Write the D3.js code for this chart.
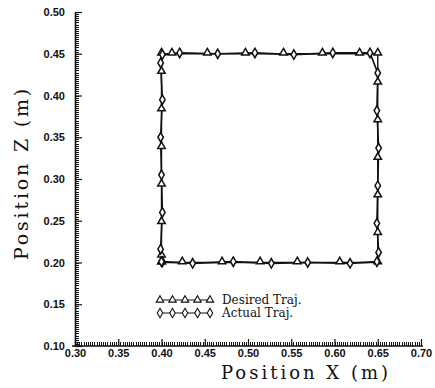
<!DOCTYPE html>
<html lang="en">
<head>
<meta charset="UTF-8">
<title>Position X-Z</title>
<script src="https://d3js.org/d3.v7.min.js"></script>
<style>
    body { margin: 0; background: #fff; }
    svg { display: block; }
    .tick text { font-family: "Liberation Sans", Arial, sans-serif; font-weight: bold; font-size: 11px; fill: #111; }
    .minor line { shape-rendering: crispEdges; }
    .title { font-family: "DejaVu Serif", serif; fill: #111; }
    .legend text { font-family: "DejaVu Serif", serif; font-size: 12px; fill: #111; }
</style>
</head>
<body>
<div id="chart"></div>
<script>
    // axis ticks
    var xTicks = [0.30, 0.35, 0.40, 0.45, 0.50, 0.55, 0.60, 0.65, 0.70];
    var zTicks = [0.10, 0.15, 0.20, 0.25, 0.30, 0.35, 0.40, 0.45, 0.50];

    // desired trajectory (square)
    var desiredX = [0.400, 0.424, 0.470, 0.514, 0.557, 0.606, 0.650,
                    0.650, 0.650, 0.650, 0.650, 0.650, 0.650,
                    0.629, 0.586, 0.541, 0.497, 0.453, 0.412, 0.400,
                    0.400, 0.400, 0.400, 0.400, 0.400, 0.400, 0.400];
    var desiredZ = [0.200, 0.200, 0.200, 0.200, 0.200, 0.200, 0.200,
                    0.235, 0.280, 0.325, 0.370, 0.415, 0.450,
                    0.450, 0.450, 0.450, 0.450, 0.450, 0.450, 0.450,
                    0.428, 0.383, 0.338, 0.293, 0.248, 0.208, 0.200];

    // actual trajectory
    var actualX = [0.401, 0.436, 0.483, 0.527, 0.569, 0.618, 0.649,
                   0.651, 0.649, 0.650, 0.651, 0.649, 0.650,
                   0.641, 0.598, 0.553, 0.508, 0.465, 0.421, 0.401,
                   0.399, 0.401, 0.399, 0.400, 0.401, 0.399, 0.400];
    var actualZ = [0.201, 0.199, 0.201, 0.199, 0.200, 0.199, 0.201,
                   0.212, 0.247, 0.292, 0.337, 0.382, 0.427,
                   0.451, 0.451, 0.449, 0.451, 0.450, 0.451, 0.449,
                   0.439, 0.395, 0.350, 0.305, 0.260, 0.216, 0.201];

    var width = 435, height = 388;

    var x = d3.scaleLinear().domain([0.30, 0.70]).range([75, 421]);
    var y = d3.scaleLinear().domain([0.10, 0.50]).range([346, 12]);

    var svg = d3.select("#chart").append("svg")
        .attr("width", width)
        .attr("height", height);

    // minor ticks every 0.0025
    var xMinor = d3.range(0, 161).map(i => 0.30 + i * 0.0025);
    var zMinor = d3.range(0, 161).map(i => 0.10 + i * 0.0025);

    svg.append("g")
        .attr("class", "minor")
        .attr("transform", "translate(0," + y(0.10) + ")")
        .call(d3.axisBottom(x).tickValues(xMinor).tickSize(-4).tickFormat(""))
        .call(g => g.select(".domain").remove())
        .selectAll("line").attr("stroke", "#111").attr("stroke-width", 1);

    svg.append("g")
        .attr("class", "minor")
        .attr("transform", "translate(" + x(0.30) + ",0)")
        .call(d3.axisLeft(y).tickValues(zMinor).tickSize(-4).tickFormat(""))
        .call(g => g.select(".domain").remove())
        .selectAll("line").attr("stroke", "#111").attr("stroke-width", 1);

    // major ticks + labels
    var xAxis = svg.append("g")
        .attr("transform", "translate(0," + y(0.10) + ")")
        .call(d3.axisBottom(x).tickValues(xTicks).tickSize(-7).tickSizeOuter(0)
            .tickPadding(3).tickFormat(d3.format(".2f")));

    var yAxis = svg.append("g")
        .attr("transform", "translate(" + x(0.30) + ",0)")
        .call(d3.axisLeft(y).tickValues(zTicks).tickSize(-7).tickSizeOuter(0)
            .tickPadding(10).tickFormat(d3.format(".2f")));

    xAxis.select(".domain").attr("stroke", "#111").attr("stroke-width", 1.6)
        .attr("d", "M" + (x(0.30) - 3) + ",0H" + (x(0.70) + 2));
    yAxis.select(".domain").attr("stroke", "#111").attr("stroke-width", 1.6);
    xAxis.selectAll(".tick line").attr("stroke", "#111").attr("stroke-width", 1.2);
    yAxis.selectAll(".tick line").attr("stroke", "#111").attr("stroke-width", 1.2);

    // axis titles
    svg.append("text")
        .attr("class", "title")
        .attr("x", 306)
        .attr("y", 379)
        .attr("text-anchor", "middle")
        .style("font-size", "18px")
        .style("letter-spacing", "3px")
        .text("Position X (m)");

    svg.append("text")
        .attr("class", "title")
        .attr("transform", "translate(28,173) rotate(-90)")
        .attr("text-anchor", "middle")
        .style("font-size", "19px")
        .style("letter-spacing", "2.8px")
        .text("Position Z (m)");

    // trajectories
    var desired = desiredX.map((d, i) => [d, desiredZ[i]]);
    var actual = actualX.map((d, i) => [d, actualZ[i]]);

    var line = d3.line().x(d => x(d[0])).y(d => y(d[1]));

    svg.append("path")
        .datum(desired)
        .attr("d", line)
        .attr("fill", "none")
        .attr("stroke", "#111")
        .attr("stroke-width", 1.4);

    svg.append("path")
        .datum(actual)
        .attr("d", line)
        .attr("fill", "none")
        .attr("stroke", "#111")
        .attr("stroke-width", 1.6);

    var tri = d3.symbol().type(d3.symbolTriangle).size(24);
    var dia = d3.symbol().type(d3.symbolDiamond).size(26);

    svg.selectAll("path.des")
        .data(desired)
        .enter()
        .append("path")
        .attr("class", "des")
        .attr("d", tri)
        .attr("transform", d => "translate(" + x(d[0]) + "," + (y(d[1]) - 1) + ")")
        .attr("fill", "#fff")
        .attr("stroke", "#111")
        .attr("stroke-width", 1.5);

    svg.selectAll("path.act")
        .data(actual)
        .enter()
        .append("path")
        .attr("class", "act")
        .attr("d", dia)
        .attr("transform", d => "translate(" + x(d[0]) + "," + y(d[1]) + ")")
        .attr("fill", "#fff")
        .attr("stroke", "#111")
        .attr("stroke-width", 1.5);

    // legend
    var legend = svg.append("g").attr("class", "legend");
    var lx = d3.scaleLinear().domain([0, 4]).range([160, 210]);
    var rows = [
        {label: "Desired Traj.", sym: tri, y: 300},
        {label: "Actual Traj.", sym: dia, y: 313}
    ];

    rows.forEach(function(r) {
        legend.append("line")
            .attr("x1", lx(0)).attr("x2", lx(4))
            .attr("y1", r.y).attr("y2", r.y)
            .attr("stroke", "#111").attr("stroke-width", 1.2);
        legend.selectAll(null)
            .data(d3.range(5))
            .enter()
            .append("path")
            .attr("d", r.sym)
            .attr("transform", d => "translate(" + lx(d) + "," + r.y + ")")
            .attr("fill", "#fff")
            .attr("stroke", "#111")
            .attr("stroke-width", 1.1);
        legend.append("text")
            .attr("x", 222)
            .attr("y", r.y + 4)
            .text(r.label);
    });
</script>
</body>
</html>
